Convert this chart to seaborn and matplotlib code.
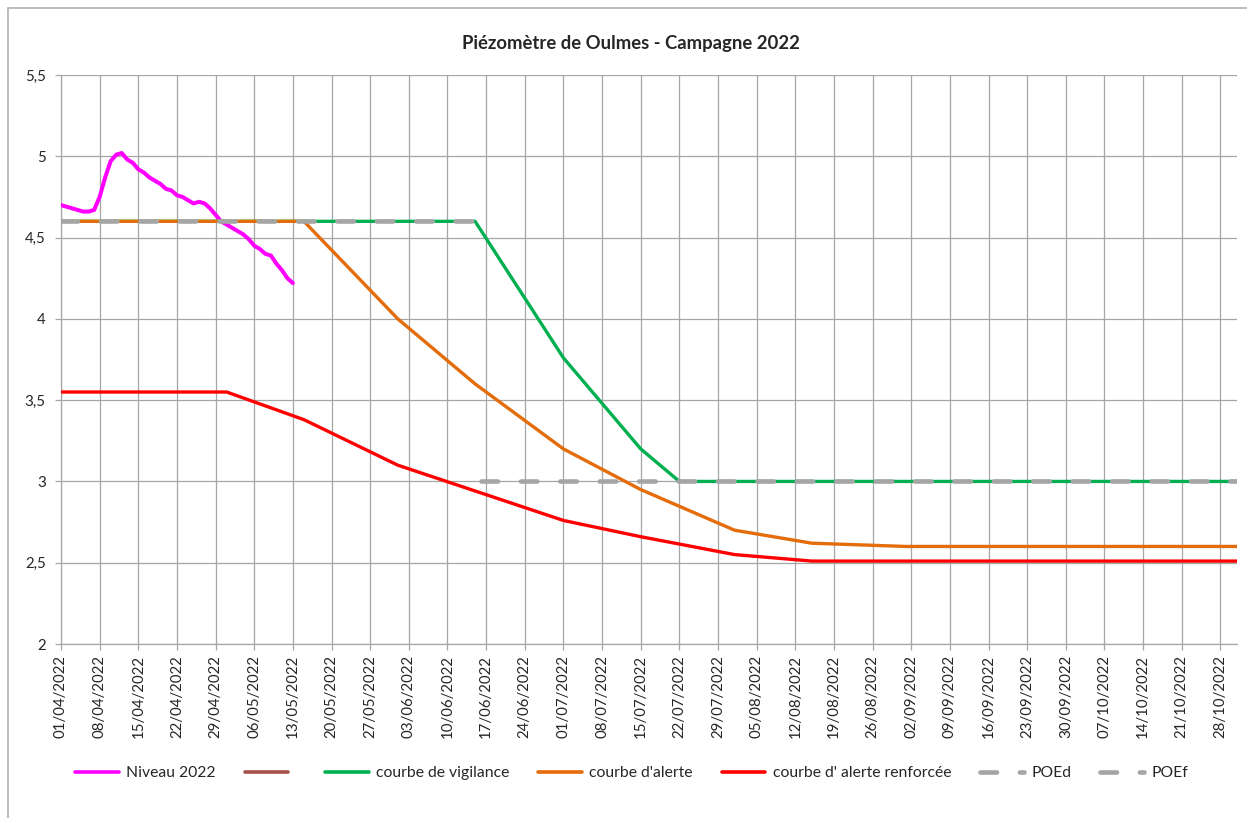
import matplotlib
matplotlib.use('Agg')

import pandas as pd
import numpy as np
import seaborn as sns
import matplotlib.pyplot as plt
from matplotlib.lines import Line2D
from matplotlib.ticker import FuncFormatter

# --- data ---
niveau_start = '2022-04-01'
niveau_vals = [4.70, 4.69, 4.68, 4.67, 4.66, 4.66, 4.67, 4.75, 4.87, 4.97,
               5.01, 5.02, 4.98, 4.96, 4.92, 4.90, 4.87, 4.85, 4.83, 4.80,
               4.79, 4.76, 4.75, 4.73, 4.71, 4.72, 4.71, 4.68, 4.64, 4.60,
               4.58, 4.56, 4.54, 4.52, 4.49, 4.45, 4.43, 4.40, 4.39, 4.34,
               4.30, 4.25, 4.22]

vigilance_dates = ['2022-04-01', '2022-06-15', '2022-07-01', '2022-07-15', '2022-07-22', '2022-10-31']
vigilance_vals = [4.6, 4.6, 3.76, 3.20, 3.0, 3.0]

alerte_dates = ['2022-04-01', '2022-05-15', '2022-06-01', '2022-06-15', '2022-07-01',
                '2022-07-15', '2022-08-01', '2022-08-15', '2022-09-01', '2022-10-31']
alerte_vals = [4.6, 4.6, 4.0, 3.6, 3.2, 2.95, 2.70, 2.62, 2.60, 2.60]

renforcee_dates = ['2022-04-01', '2022-05-01', '2022-05-15', '2022-06-01', '2022-07-01',
                   '2022-07-15', '2022-08-01', '2022-08-15', '2022-10-31']
renforcee_vals = [3.55, 3.55, 3.38, 3.10, 2.76, 2.66, 2.55, 2.51, 2.51]

poed_dates = ['2022-04-01', '2022-06-15']
poed_vals = [4.6, 4.6]

poef_dates = ['2022-06-16', '2022-10-31']
poef_vals = [3.0, 3.0]

tick_dates = pd.date_range('2022-04-01', '2022-10-28', freq='7D')

# --- style ---
sns.set_style('white')
plt.rcParams['font.family'] = ['Lato', 'DejaVu Sans']

grid_col = '#A6A6A6'
gray_dash = '#A5A5A5'
dash_style = (0, (3.6, 5.0))

fig = plt.figure(figsize=(12.47, 8.18), dpi=100)
ax = fig.add_axes([61 / 1247, 1 - 644 / 818, (1237 - 61) / 1247, (644 - 75) / 818])

niveau = pd.DataFrame({'date': pd.date_range(niveau_start, periods=len(niveau_vals)),
                       'val': niveau_vals})

sns.lineplot(data=niveau, x='date', y='val', ax=ax, color='#FF00FF', lw=2.9, zorder=3)
sns.lineplot(x=pd.to_datetime(vigilance_dates), y=vigilance_vals, ax=ax, color='#00B050', lw=2.4, zorder=4)
sns.lineplot(x=pd.to_datetime(alerte_dates), y=alerte_vals, ax=ax, color='#E46C0A', lw=2.4, zorder=5)
sns.lineplot(x=pd.to_datetime(renforcee_dates), y=renforcee_vals, ax=ax, color='#FF0000', lw=2.4, zorder=6)
sns.lineplot(x=pd.to_datetime(poed_dates), y=poed_vals, ax=ax, color=gray_dash, lw=3.3,
             linestyle=dash_style, dash_capstyle='round', zorder=7)
sns.lineplot(x=pd.to_datetime(poef_dates), y=poef_vals, ax=ax, color=gray_dash, lw=3.3,
             linestyle=dash_style, dash_capstyle='round', zorder=8)

ax.set_xlim(pd.Timestamp('2022-04-01'), pd.Timestamp('2022-10-31'))
ax.set_ylim(2, 5.5)
ax.set_yticks(np.arange(2, 5.51, 0.5))
ax.yaxis.set_major_formatter(FuncFormatter(lambda v, p: f'{v:g}'.replace('.', ',')))
ax.set_xticks(tick_dates)
ax.set_xticklabels([d.strftime('%d/%m/%Y') for d in tick_dates], rotation=90)
ax.set_xlabel('')
ax.set_ylabel('')

ax.grid(True, color=grid_col, lw=0.9)
ax.set_axisbelow(True)
for side in ['top', 'right']:
    ax.spines[side].set_visible(False)
for side in ['left', 'bottom']:
    ax.spines[side].set_color(grid_col)
    ax.spines[side].set_linewidth(0.9)
ax.tick_params(axis='x', direction='out', length=4, width=0.9, color=grid_col,
               labelsize=10.8, pad=4)
ax.tick_params(axis='y', direction='out', length=4, width=0.9, color=grid_col,
               labelsize=10.8, pad=7)
ax.tick_params(bottom=True, left=True)

fig.text(631 / 1247, 1 - 44 / 818, 'Piézomètre de Oulmes - Campagne 2022',
         ha='center', va='center', fontsize=13.3, fontweight='bold')

# legend
if ax.get_legend():
    ax.get_legend().remove()
handles = [
    Line2D([], [], color='#FF00FF', lw=2.6),
    Line2D([], [], color='#A5514A', lw=2.6),
    Line2D([], [], color='#00B050', lw=2.6),
    Line2D([], [], color='#E46C0A', lw=2.6),
    Line2D([], [], color='#FF0000', lw=2.6),
    Line2D([], [], color=gray_dash, lw=3.3, linestyle=dash_style, dash_capstyle='round'),
    Line2D([], [], color=gray_dash, lw=3.3, linestyle=dash_style, dash_capstyle='round'),
]
labels = ['Niveau 2022', '', 'courbe de vigilance', "courbe d'alerte",
          "courbe d' alerte renforcée", 'POEd', 'POEf']
fig.legend(handles, labels, loc='center left', bbox_to_anchor=(75 / 1247, 1 - 773 / 818),
           ncol=7, frameon=False, fontsize=11.3, handlelength=2.8, handletextpad=0.45,
           columnspacing=1.85, borderpad=0, borderaxespad=0)

# chart border (cropped at right/bottom)
fig.add_artist(Line2D([8 / 1247, 8 / 1247], [0, 1 - 8 / 818], transform=fig.transFigure,
                      color='#B0B0B0', lw=1.2))
fig.add_artist(Line2D([8 / 1247, 1], [1 - 8 / 818, 1 - 8 / 818], transform=fig.transFigure,
                      color='#B0B0B0', lw=1.2))

fig.savefig('out.png', dpi=100, facecolor='white')
